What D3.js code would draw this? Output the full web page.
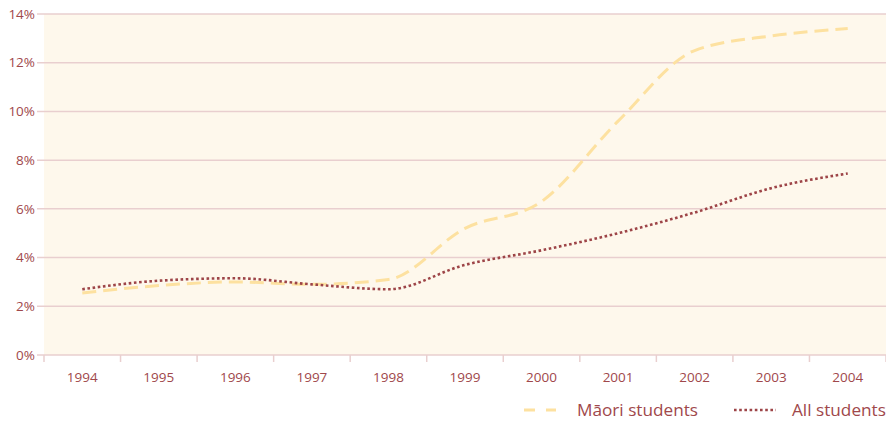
<!DOCTYPE html>
<html><head><meta charset="utf-8">
<script src="https://cdn.jsdelivr.net/npm/d3@7"></script>
<style>body{margin:0;background:#fff;}svg{display:block;font-family:"Open Sans",sans-serif;}</style>
</head><body><svg id="c" width="886" height="422"></svg>
<script>
const years = ["1994","1995","1996","1997","1998","1999","2000","2001","2002","2003","2004"];
const maori = [2.55,2.85,3.0,2.9,3.1,5.2,6.3,9.6,12.5,13.1,13.4];
const allStudents = [2.7,3.05,3.15,2.9,2.7,3.7,4.3,5.0,5.85,6.85,7.45];
const yTicks = [0,2,4,6,8,10,12,14];
const seriesNames = ["Māori students","All students"];

const svg = d3.select("#c");
const L=44, R=886, T=14, B=355;
const txt="#a0484b", grid="#e9cfcf";
const x = d3.scaleBand().domain(years).range([L,R]);
const y = d3.scaleLinear().domain([0,14]).range([B,T]);

svg.append("rect").attr("x",L).attr("y",T).attr("width",R-L).attr("height",B-T).attr("fill","#fef8ec");

const g = svg.append("g");
yTicks.forEach(t=>{
  g.append("line").attr("x1",37).attr("x2",R).attr("y1",y(t)).attr("y2",y(t)).attr("stroke",grid).attr("stroke-width",1.5);
  g.append("text").attr("x",35).attr("y",y(t)).attr("dy","0.35em").attr("text-anchor","end")
   .attr("fill",txt).attr("font-size",13.5).text(t+"%");
});
const xt = years.map(d=>x(d)).concat([R]);
xt.forEach(v=>{
  g.append("line").attr("x1",v).attr("x2",v).attr("y1",B).attr("y2",B+7).attr("stroke",grid).attr("stroke-width",1.5);
});
years.forEach(d=>{
  g.append("text").attr("x",x(d)+x.bandwidth()/2).attr("y",382).attr("text-anchor","middle")
   .attr("fill",txt).attr("font-size",13.5).text(d);
});

const line = d3.line().x((d,i)=>x(years[i])+x.bandwidth()/2).y(d=>y(d)).curve(d3.curveMonotoneX);
svg.append("path").attr("d",line(maori)).attr("fill","none").attr("stroke","#fde1a0").attr("stroke-width",3).attr("stroke-dasharray","14,7");
svg.append("path").attr("d",line(allStudents)).attr("fill","none").attr("stroke","#9d4447").attr("stroke-width",2.6).attr("stroke-dasharray","2.6,2.6");

// legend
svg.append("line").attr("x1",524).attr("x2",556).attr("y1",410).attr("y2",410).attr("stroke","#fde1a0").attr("stroke-width",3).attr("stroke-dasharray","11,11");
svg.append("text").attr("x",577).attr("y",416).attr("fill",txt).attr("font-size",17.2).text(seriesNames[0]);
svg.append("line").attr("x1",734).attr("x2",776).attr("y1",410).attr("y2",410).attr("stroke","#9d4447").attr("stroke-width",2.6).attr("stroke-dasharray","2.6,2.6");
svg.append("text").attr("x",792).attr("y",416).attr("fill",txt).attr("font-size",17.2).text(seriesNames[1]);
</script></body></html>
